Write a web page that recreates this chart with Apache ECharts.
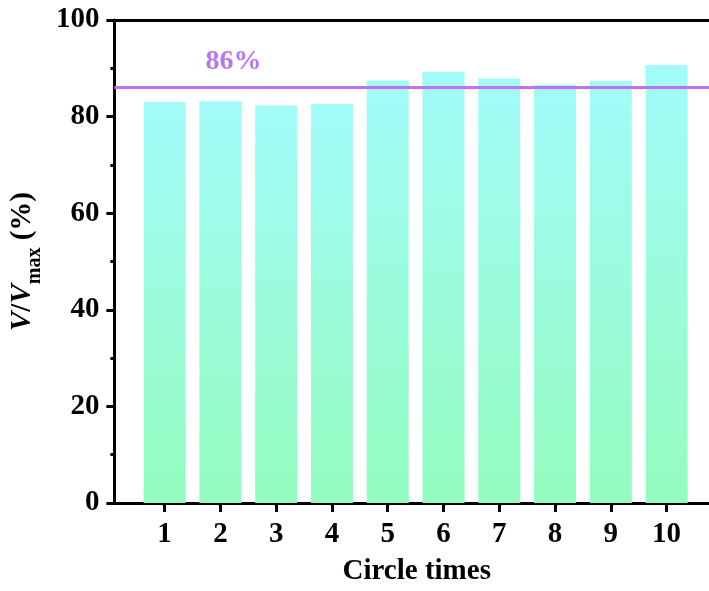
<!DOCTYPE html>
<html>
<head>
<meta charset="utf-8">
<script src="https://cdn.jsdelivr.net/npm/echarts@6/dist/echarts.min.js"></script>
<style>
  html, body { margin: 0; padding: 0; background: #ffffff; }
  #chart { width: 709px; height: 591px; }
</style>
</head>
<body>
<div id="chart"></div>
<script>
// Capacity retention over repeated cycles
const cycles = [1, 2, 3, 4, 5, 6, 7, 8, 9, 10];
const retention = [83.0, 83.2, 82.3, 82.6, 87.5, 89.3, 87.9, 86.6, 87.4, 90.7];
const averageLevel = 86;
const yTickValues = [0, 20, 40, 60, 80, 100];

const serif = '"Liberation Serif", "Times New Roman", serif';
const axisColor = '#000000';

const chart = echarts.init(document.getElementById('chart'), null, { renderer: 'canvas' });

const barGradient = new echarts.graphic.LinearGradient(0, 0, 0, 1, [
  { offset: 0, color: '#a2fbf9' },
  { offset: 1, color: '#93fcbe' }
]);

chart.setOption({
  animation: false,
  backgroundColor: '#ffffff',
  grid: { left: 113, top: 20, right: 0, bottom: 86, containLabel: false },
  xAxis: [
    {
      type: 'value',
      min: 0.1,
      max: 10.76,
      name: 'Circle times',
      nameLocation: 'middle',
      nameGap: 54,
      nameTextStyle: { fontFamily: serif, fontWeight: 'bold', fontSize: 29, color: '#000', padding: [0, 0, 0, 10] },
      axisLine: { show: true, lineStyle: { color: axisColor, width: 3 } },
      axisTick: { show: true, customValues: cycles, length: 9, lineStyle: { color: axisColor, width: 3 } },
      axisLabel: {
        customValues: cycles,
        margin: 17,
        fontFamily: serif, fontWeight: 'bold', fontSize: 29, color: '#000'
      },
      splitLine: { show: false }
    },
    {
      type: 'value',
      position: 'top',
      min: 0.1,
      max: 10.76,
      axisLine: { show: true, onZero: false, lineStyle: { color: axisColor, width: 3 } },
      axisTick: { show: false },
      axisLabel: { show: false },
      splitLine: { show: false }
    }
  ],
  yAxis: {
    type: 'value',
    min: 0,
    max: 100,
    interval: 20,
    name: '{i|V}{b|/}{i|V}{s|max}{b| (%)}',
    nameLocation: 'middle',
    nameRotate: 90,
    nameGap: 74,
    nameTextStyle: {
      rich: {
        i: { fontFamily: serif, fontWeight: 'bold', fontStyle: 'italic', fontSize: 29, color: '#000', lineHeight: 34, verticalAlign: 'bottom' },
        b: { fontFamily: serif, fontWeight: 'bold', fontSize: 29, color: '#000', lineHeight: 34, verticalAlign: 'bottom' },
        s: { fontFamily: serif, fontWeight: 'bold', fontSize: 20, color: '#000', lineHeight: 24, verticalAlign: 'bottom', padding: [0, 0, -8, 0] }
      }
    },
    axisLine: { show: true, lineStyle: { color: axisColor, width: 3 } },
    axisTick: { show: true, length: 8, lineStyle: { color: axisColor, width: 3 } },
    minorTick: { show: true, splitNumber: 2, length: 4, lineStyle: { color: axisColor, width: 3 } },
    axisLabel: {
      customValues: yTickValues,
      margin: 15,
      fontFamily: serif, fontWeight: 'bold', fontSize: 29, color: '#000'
    },
    splitLine: { show: false }
  },
  series: [
    {
      type: 'bar',
      data: cycles.map((c, i) => [c, retention[i]]),
      barWidth: 42,
      itemStyle: { color: barGradient },
      markLine: {
        silent: true,
        symbol: 'none',
        lineStyle: { color: '#c070f2', width: 3, type: 'solid' },
        label: {
          show: true,
          position: 'insideStartTop',
          distance: [91, 12],
          formatter: (p) => p.value + '%',
          fontFamily: serif, fontWeight: 'bold', fontSize: 28, color: '#b977ec'
        },
        data: [{ yAxis: averageLevel }]
      }
    }
  ]
});
</script>
</body>
</html>
